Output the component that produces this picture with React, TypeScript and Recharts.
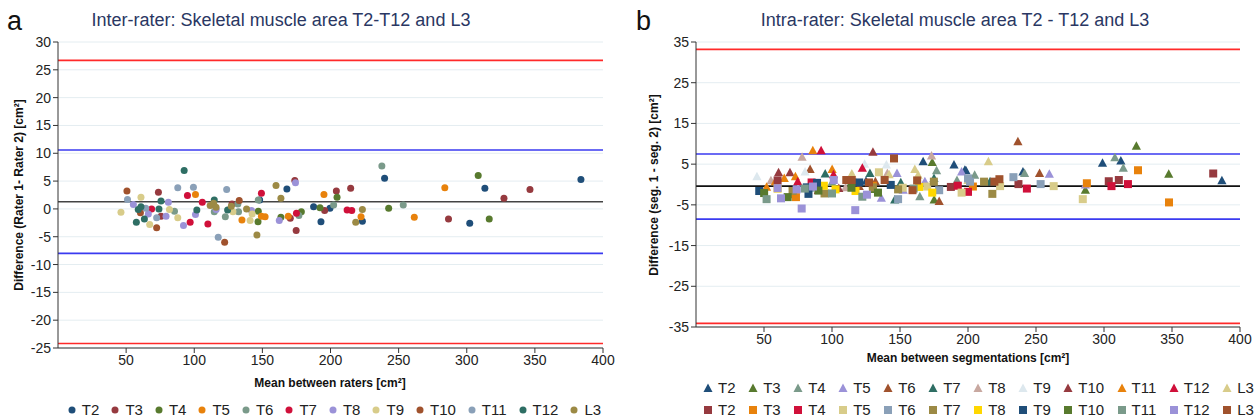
import React from 'react';
import { ScatterChart, Scatter, XAxis, YAxis, CartesianGrid, ReferenceLine } from 'recharts';

type Pt = { x: number; y: number };

const levels = ['T2', 'T3', 'T4', 'T5', 'T6', 'T7', 'T8', 'T9', 'T10', 'T11', 'T12', 'L3'];

const interColors = ['#1f4e79', '#963a3f', '#587a2e', '#e8820c', '#7a9a8a', '#d0103a', '#9b92d8', '#d8cc8a', '#a0522d', '#8aa0b8', '#2e6e64', '#9c8a45'];
const intraTriColors = ['#1f4e79', '#587a2e', '#7a9a8a', '#9b92d8', '#a0522d', '#2e6e64', '#c8a8a0', '#dde8ee', '#963a3f', '#e8820c', '#d0103a', '#d8cc8a'];
const intraSqColors = ['#963a3f', '#e8820c', '#d0103a', '#d8cc8a', '#8aa0b8', '#9c8a45', '#ffd700', '#1f4e79', '#587a2e', '#7a9a8a', '#9b92d8', '#a0522d'];

const xTicks = [50, 100, 150, 200, 250, 300, 350, 400];
const interYTicks = [-25, -20, -15, -10, -5, 0, 5, 10, 15, 20, 25, 30];
const intraYTicks = [-35, -25, -15, -5, 5, 15, 25, 35];

const interLimits = [26.7, 10.6, 1.3, -8.0, -24.2];
const intraLimits = [33.2, 7.5, -0.4, -8.5, -34.1];
const limitColors = ['#ff2a2a', '#3a3af0', '#444444', '#3a3af0', '#ff2a2a'];

// Panel a: inter-rater (circles)
const interT2: Pt[] = [{ x: 148, y: 1.6 }, { x: 168, y: 3.6 }, { x: 187.6, y: 0.4 }, { x: 193, y: -2.3 }, { x: 199.6, y: 0.1 }, { x: 223.4, y: -2.2 }, { x: 239.7, y: 5.5 }, { x: 302.2, y: -2.6 }, { x: 313.3, y: 3.7 }, { x: 383.8, y: 5.3 }];
const interT3: Pt[] = [{ x: 73.7, y: 3.0 }, { x: 75.6, y: -1.3 }, { x: 127.7, y: 0.9 }, { x: 170.5, y: -1.7 }, { x: 173.8, y: 5.1 }, { x: 174.8, y: -3.9 }, { x: 195.7, y: -0.3 }, { x: 204.3, y: 3.2 }, { x: 214.8, y: 3.7 }, { x: 286.6, y: -1.8 }, { x: 327.3, y: 1.9 }, { x: 346.4, y: 3.5 }];
const interT4: Pt[] = [{ x: 146.8, y: -2.3 }, { x: 147, y: -0.4 }, { x: 163.6, y: -1.5 }, { x: 178.6, y: -0.5 }, { x: 192.3, y: 0.2 }, { x: 204.8, y: 2.1 }, { x: 242.7, y: 0.1 }, { x: 308.4, y: 6.0 }, { x: 316.5, y: -1.8 }];
const interT5: Pt[] = [{ x: 100.9, y: 2.6 }, { x: 135, y: -2.0 }, { x: 149.3, y: -1.3 }, { x: 152, y: -1.4 }, { x: 169, y: -1.3 }, { x: 195.2, y: 2.6 }, { x: 222.4, y: -1.4 }, { x: 261.5, y: -1.5 }, { x: 283.9, y: 3.8 }];
const interT6: Pt[] = [{ x: 85.5, y: -0.4 }, { x: 114.7, y: -0.5 }, { x: 122.8, y: -1.4 }, { x: 132, y: 0.9 }, { x: 132.5, y: -0.5 }, { x: 147, y: 1.6 }, { x: 176.8, y: -1.2 }, { x: 202.3, y: 0.7 }, { x: 237.7, y: 7.7 }, { x: 253.4, y: 0.7 }];
const interT7: Pt[] = [{ x: 68.7, y: 0 }, { x: 95, y: 2.4 }, { x: 97, y: -2.4 }, { x: 105.9, y: 1.2 }, { x: 110, y: -2.7 }, { x: 149.3, y: 2.8 }, { x: 175, y: -0.8 }, { x: 212.2, y: -0.2 }, { x: 215.6, y: -0.3 }];
const interT8: Pt[] = [{ x: 55.3, y: 0.8 }, { x: 66.3, y: -0.9 }, { x: 79.3, y: -1.3 }, { x: 81, y: 1.2 }, { x: 92.1, y: -3.0 }, { x: 100.9, y: -1.0 }, { x: 116.1, y: -0.1 }, { x: 142, y: -0.3 }, { x: 162.4, y: -2.1 }, { x: 174.3, y: 4.7 }];
const interT9: Pt[] = [{ x: 46.2, y: -0.6 }, { x: 60.9, y: 2.1 }, { x: 67.3, y: -2.8 }, { x: 81.8, y: -0.1 }, { x: 87.9, y: -1.6 }, { x: 128.4, y: -0.5 }, { x: 141, y: -2.1 }, { x: 142.5, y: -0.9 }];
const interT10: Pt[] = [{ x: 50.6, y: 3.2 }, { x: 60.5, y: -0.7 }, { x: 72.4, y: -3.4 }, { x: 122.3, y: -6.0 }, { x: 133, y: 1.5 }];
const interT11: Pt[] = [{ x: 51, y: 1.7 }, { x: 64.4, y: 0.1 }, { x: 72.4, y: -1.6 }, { x: 87.9, y: 3.8 }, { x: 99.4, y: 3.9 }, { x: 117.6, y: -5.1 }, { x: 123.8, y: 3.5 }];
const interT12: Pt[] = [{ x: 57.5, y: -2.4 }, { x: 58.9, y: -0.1 }, { x: 60.9, y: 0.4 }, { x: 63.4, y: -1.8 }, { x: 74.1, y: 0 }, { x: 75.6, y: 1.4 }, { x: 92.6, y: 6.9 }, { x: 101.9, y: -0.2 }, { x: 114.7, y: 1.6 }, { x: 124.5, y: -0.2 }];
const interL3: Pt[] = [{ x: 111.7, y: 0.6 }, { x: 114.2, y: 1.0 }, { x: 116, y: 0.3 }, { x: 127.2, y: 0.5 }, { x: 138.4, y: 0.0 }, { x: 146, y: -4.7 }, { x: 160, y: 4.2 }, { x: 163.6, y: 1.9 }, { x: 218.5, y: -2.4 }, { x: 223.4, y: -0.1 }];
const interSeries = [interT2, interT3, interT4, interT5, interT6, interT7, interT8, interT9, interT10, interT11, interT12, interL3];

// Panel b: intra-rater, triangles
const triT2: Pt[] = [{ x: 88, y: -0.5 }, { x: 125, y: 0.8 }, { x: 167, y: 5.6 }, { x: 189.7, y: 4.8 }, { x: 197.7, y: 3.5 }, { x: 198.5, y: 3.4 }, { x: 240.4, y: 3.1 }, { x: 298.9, y: 5.2 }, { x: 312.4, y: 5.8 }, { x: 386.7, y: 0.9 }];
const triT3: Pt[] = [{ x: 72, y: -2.0 }, { x: 130, y: -1.2 }, { x: 173.7, y: 5.4 }, { x: 175.1, y: -3.8 }, { x: 286.3, y: -1.4 }, { x: 323.8, y: 9.4 }, { x: 347.6, y: 2.5 }];
const triT4: Pt[] = [{ x: 100, y: 0.5 }, { x: 164.6, y: -3.0 }, { x: 176.9, y: 3.4 }, { x: 191.9, y: 1.0 }, { x: 204.9, y: 2.3 }, { x: 241.6, y: 2.7 }, { x: 308, y: 6.6 }, { x: 314.2, y: 4.0 }];
const triT5: Pt[] = [{ x: 136.3, y: -3.4 }, { x: 147.8, y: 2.7 }, { x: 152.3, y: -1.4 }, { x: 168.3, y: 0.7 }, { x: 195.3, y: 3.1 }, { x: 259.8, y: 2.5 }, { x: 286.3, y: -0.1 }];
const triT6: Pt[] = [{ x: 83.9, y: 3.7 }, { x: 120, y: -0.5 }, { x: 131.9, y: 0.7 }, { x: 178.8, y: -4.2 }, { x: 236.7, y: 10.5 }, { x: 252.6, y: 2.7 }];
const triT7: Pt[] = [{ x: 95, y: 2.6 }, { x: 127.9, y: 2.7 }, { x: 146.1, y: -3.8 }, { x: 150.6, y: 0.4 }, { x: 175, y: 1.5 }, { x: 216.2, y: 0.7 }];
const triT8: Pt[] = [{ x: 55.1, y: 0.9 }, { x: 78, y: 6.7 }, { x: 110, y: -0.8 }, { x: 140.7, y: 2.7 }, { x: 173.2, y: 7.0 }];
const triT9: Pt[] = [{ x: 44.8, y: 1.9 }, { x: 75, y: -1.0 }, { x: 80.2, y: 3.1 }, { x: 124, y: 5.0 }, { x: 140, y: 4.8 }];
const triT10: Pt[] = [{ x: 60.7, y: 2.9 }, { x: 69.1, y: 2.9 }, { x: 105, y: -1.0 }, { x: 130.1, y: 7.9 }];
const triT11: Pt[] = [{ x: 51.9, y: -0.7 }, { x: 58.3, y: 0.7 }, { x: 64.9, y: 1.5 }, { x: 70, y: -2.5 }, { x: 73.1, y: 1.9 }, { x: 85.9, y: 8.3 }, { x: 100.1, y: 3.7 }];
const triT12: Pt[] = [{ x: 74.8, y: 0.7 }, { x: 90, y: -1.5 }, { x: 92, y: 8.3 }, { x: 101.1, y: 2.4 }, { x: 122.3, y: 4.0 }];
const triL3: Pt[] = [{ x: 114.6, y: 2.6 }, { x: 142, y: 2.4 }, { x: 160.9, y: 3.7 }, { x: 163.3, y: 2.3 }, { x: 200, y: 1.0 }, { x: 215, y: 5.6 }];
const triSeries = [triT2, triT3, triT4, triT5, triT6, triT7, triT8, triT9, triT10, triT11, triT12, triL3];

// Panel b: intra-rater, squares
const sqT2: Pt[] = [{ x: 60, y: 1.0 }, { x: 115, y: 0.5 }, { x: 187.4, y: -0.6 }, { x: 237.1, y: 0.1 }, { x: 303.5, y: 0.8 }, { x: 310.9, y: 1.1 }, { x: 380.3, y: 2.7 }];
const sqT3: Pt[] = [{ x: 73.5, y: -3.1 }, { x: 130, y: -0.3 }, { x: 203.6, y: -0.5 }, { x: 287.4, y: 0.3 }, { x: 325, y: 3.5 }, { x: 347.8, y: -4.4 }];
const sqT4: Pt[] = [{ x: 85, y: 0.5 }, { x: 192.5, y: -0.3 }, { x: 200, y: -1.8 }, { x: 243.3, y: -1.0 }, { x: 305.5, y: -0.4 }, { x: 317.6, y: 0.1 }];
const sqT5: Pt[] = [{ x: 134.5, y: 3.0 }, { x: 152, y: -0.8 }, { x: 170, y: -0.5 }, { x: 195.3, y: -2.0 }, { x: 223.6, y: -0.4 }, { x: 263, y: -0.4 }, { x: 284.4, y: -3.6 }];
const sqT6: Pt[] = [{ x: 84, y: -0.8 }, { x: 148.6, y: -3.6 }, { x: 178.8, y: -1.4 }, { x: 200, y: 1.5 }, { x: 201.5, y: 0.7 }, { x: 233.4, y: 1.8 }, { x: 253.4, y: 0.1 }];
const sqT7: Pt[] = [{ x: 71, y: -1.6 }, { x: 94.5, y: -2.2 }, { x: 130.1, y: -0.7 }, { x: 148.6, y: -1.2 }, { x: 174.9, y: 0.7 }, { x: 211.8, y: 0.7 }, { x: 217.9, y: -2.3 }];
const sqT8: Pt[] = [{ x: 60, y: -1.0 }, { x: 94, y: -0.3 }, { x: 102.6, y: -1.2 }, { x: 117.3, y: -1.6 }, { x: 164.1, y: -0.6 }, { x: 173.7, y: -2.0 }];
const sqT9: Pt[] = [{ x: 46.5, y: -1.6 }, { x: 81.5, y: -0.7 }, { x: 82.7, y: -2.3 }, { x: 89, y: 0.4 }, { x: 120, y: 0.5 }, { x: 143.2, y: -0.1 }];
const sqT10: Pt[] = [{ x: 50.1, y: -2.1 }, { x: 67.4, y: -3.1 }, { x: 90, y: -1.5 }, { x: 114.3, y: -0.8 }, { x: 133.8, y: -2.0 }];
const sqT11: Pt[] = [{ x: 51.9, y: -3.6 }, { x: 80, y: -1.0 }, { x: 100, y: -2.2 }, { x: 122.3, y: -3.0 }, { x: 160, y: -1.0 }];
const sqT12: Pt[] = [{ x: 60, y: -0.9 }, { x: 62.5, y: -3.4 }, { x: 74, y: -1.2 }, { x: 77.7, y: -5.9 }, { x: 86, y: -0.5 }, { x: 101.3, y: 1.1 }, { x: 117.1, y: -6.3 }, { x: 125.7, y: -2.5 }];
const sqL3: Pt[] = [{ x: 110.5, y: 1.1 }, { x: 114.5, y: 1.1 }, { x: 127.2, y: 0.5 }, { x: 138.7, y: 1.1 }, { x: 145.6, y: 6.4 }, { x: 159.2, y: -1.4 }, { x: 162.6, y: 1.0 }, { x: 219.4, y: 0.7 }, { x: 223.1, y: 1.3 }];
const sqSeries = [sqT2, sqT3, sqT4, sqT5, sqT6, sqT7, sqT8, sqT9, sqT10, sqT11, sqT12, sqL3];

const FONT = '"Liberation Sans", Arial, Helvetica, sans-serif';
const TITLE_COLOR = '#2a3763';

const circleShape = (color: string) => (p: any) => <circle cx={p.cx} cy={p.cy} r={3.5} fill={color} />;
const triShape = (color: string) => (p: any) => (
  <polygon points={`${p.cx},${p.cy - 5} ${p.cx - 4.6},${p.cy + 3.5} ${p.cx + 4.6},${p.cy + 3.5}`} fill={color} />
);
const sqShape = (color: string) => (p: any) => <rect x={p.cx - 4} y={p.cy - 4} width={8} height={8} fill={color} />;

const tickStyle = { fontSize: 14, fill: '#222', fontFamily: FONT };
const axisStroke = { stroke: '#333', strokeWidth: 1 };

function LegendRow({ left, top, width, colors, kind, gap }: { left: number; top: number; width: number; colors: string[]; kind: 'circle' | 'tri' | 'sq'; gap: number }) {
  return (
    <div style={{ position: 'absolute', left, top, width, display: 'flex', justifyContent: 'center', gap, fontFamily: FONT, fontSize: 15, color: '#222', lineHeight: '18px' }}>
      {levels.map((lv, i) => (
        <div key={lv + kind} style={{ display: 'flex', alignItems: 'center' }}>
          <svg width={10} height={10} style={{ marginRight: 5 }}>
            {kind === 'circle' && <circle cx={5} cy={5} r={3.5} fill={colors[i]} />}
            {kind === 'tri' && <polygon points="5,0.5 0.5,9 9.5,9" fill={colors[i]} />}
            {kind === 'sq' && <rect x={1} y={1} width={8} height={8} fill={colors[i]} />}
          </svg>
          <span>{lv}</span>
        </div>
      ))}
    </div>
  );
}

export default function App() {
  return (
    <div style={{ position: 'absolute', left: 0, top: 0, width: 1255, height: 419, background: '#fff', overflow: 'hidden' }}>
      <div style={{ position: 'absolute', left: 0, top: 0 }}>
        <ScatterChart width={620} height={419} margin={{ top: 42, right: 17, bottom: 41, left: 0 }}>
          <CartesianGrid horizontal vertical={false} stroke="#e4edf1" />
          <XAxis type="number" dataKey="x" domain={[0, 400]} ticks={xTicks} height={30} tick={tickStyle} axisLine={axisStroke} tickLine={axisStroke} tickSize={5} interval={0} />
          <YAxis type="number" dataKey="y" domain={[-25, 30]} ticks={interYTicks} width={58} tick={tickStyle} axisLine={axisStroke} tickLine={axisStroke} tickSize={5} interval={0} />
          {interLimits.map((v, i) => (
            <ReferenceLine key={'il' + i} y={v} stroke={limitColors[i]} strokeWidth={1.6} />
          ))}
          {interSeries.map((d, i) => (
            <Scatter key={'is' + i} name={levels[i]} data={d} fill={interColors[i]} shape={circleShape(interColors[i])} isAnimationActive={false} />
          ))}
        </ScatterChart>
      </div>
      <div style={{ position: 'absolute', left: 620, top: 0 }}>
        <ScatterChart width={635} height={419} margin={{ top: 42, right: 15, bottom: 62, left: 0 }}>
          <CartesianGrid horizontal vertical={false} stroke="#e4edf1" />
          <XAxis type="number" dataKey="x" domain={[0, 400]} ticks={xTicks} height={30} tick={tickStyle} axisLine={axisStroke} tickLine={axisStroke} tickSize={5} interval={0} />
          <YAxis type="number" dataKey="y" domain={[-35, 35]} ticks={intraYTicks} width={76} tick={tickStyle} axisLine={axisStroke} tickLine={axisStroke} tickSize={5} interval={0} />
          {intraLimits.map((v, i) => (
            <ReferenceLine key={'rl' + i} y={v} stroke={limitColors[i] === '#444444' ? '#111111' : limitColors[i]} strokeWidth={1.6} />
          ))}
          {triSeries.map((d, i) => (
            <Scatter key={'ts' + i} name={levels[i]} data={d} fill={intraTriColors[i]} shape={triShape(intraTriColors[i])} isAnimationActive={false} />
          ))}
          {sqSeries.map((d, i) => (
            <Scatter key={'ss' + i} name={levels[i]} data={d} fill={intraSqColors[i]} shape={sqShape(intraSqColors[i])} isAnimationActive={false} />
          ))}
        </ScatterChart>
      </div>
      <svg width={1255} height={419} style={{ position: 'absolute', left: 0, top: 0, pointerEvents: 'none' }} fontFamily={FONT}>
        <text x={7} y={30} fontSize={27} fill="#111">a</text>
        <text x={281} y={26} fontSize={18} fill={TITLE_COLOR} textAnchor="middle">Inter-rater: Skeletal muscle area T2-T12 and L3</text>
        <text x={636} y={30} fontSize={27} fill="#111">b</text>
        <text x={955} y={26} fontSize={18} fill={TITLE_COLOR} textAnchor="middle">Intra-rater: Skeletal muscle area T2 - T12 and L3</text>
        <text x={330} y={387} fontSize={12} fontWeight="bold" fill="#111" textAnchor="middle">Mean between raters [cm²]</text>
        <text x={968} y={362} fontSize={12} fontWeight="bold" fill="#111" textAnchor="middle">Mean between segmentations [cm²]</text>
        <text transform="translate(23,195) rotate(-90)" fontSize={12} fontWeight="bold" fill="#111" textAnchor="middle">Difference (Rater 1- Rater 2) [cm²]</text>
        <text transform="translate(658,185) rotate(-90)" fontSize={12} fontWeight="bold" fill="#111" textAnchor="middle">Difference (seg. 1 - seg. 2) [cm²]</text>
      </svg>
      <LegendRow left={0} top={401} width={668} colors={interColors} kind="circle" gap={11} />
      <LegendRow left={702} top={379} width={553} colors={intraTriColors} kind="tri" gap={12.5} />
      <LegendRow left={702} top={401} width={553} colors={intraSqColors} kind="sq" gap={12.5} />
    </div>
  );
}
